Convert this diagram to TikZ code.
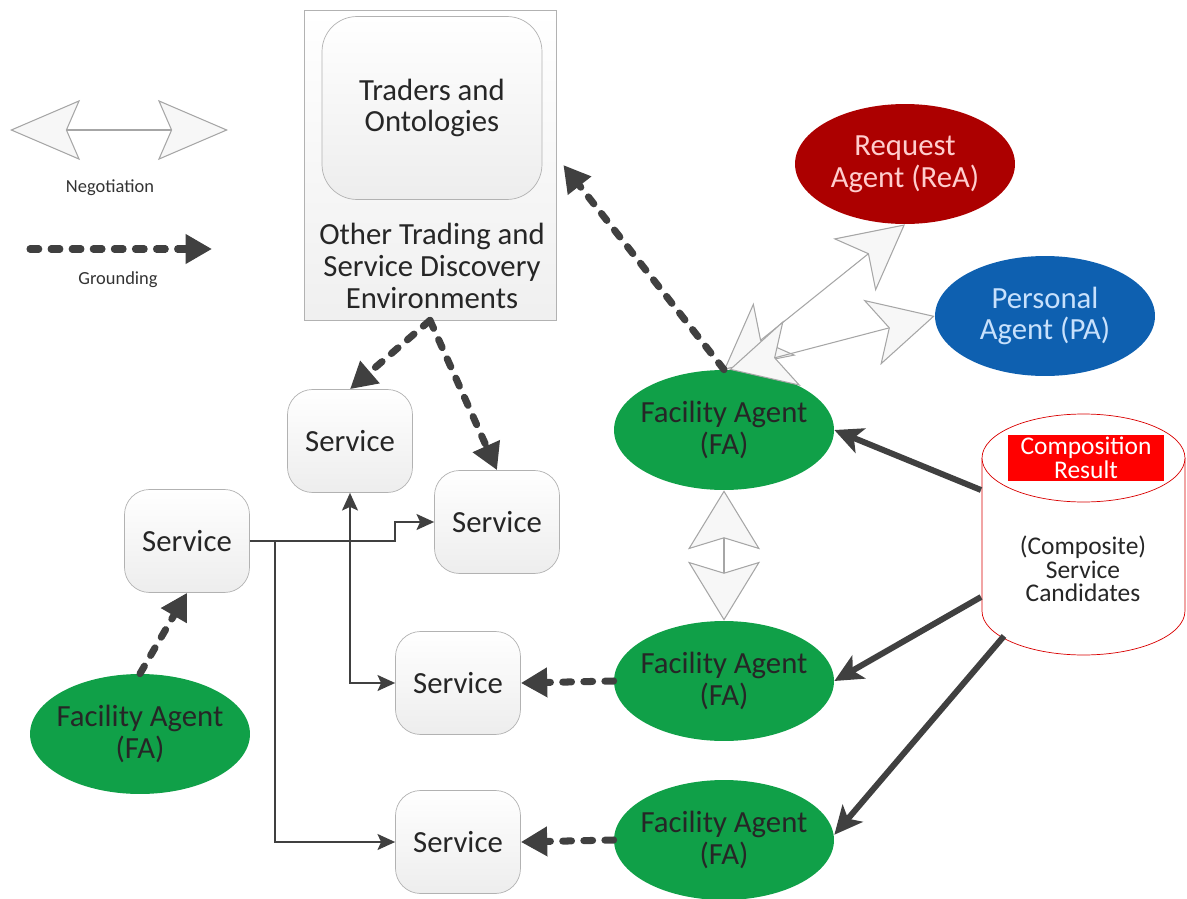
\documentclass[tikz,border=0pt]{standalone}
\usepackage{fontspec}
\setmainfont{Carlito}
\usetikzlibrary{arrows.meta,shapes.geometric}

\definecolor{fagreen}{RGB}{16,160,72}
\definecolor{reared}{RGB}{172,0,0}
\definecolor{reatext}{RGB}{255,205,205}
\definecolor{pablue}{RGB}{14,96,176}
\definecolor{patext}{RGB}{200,225,252}
\definecolor{linegray}{RGB}{64,64,64}

\tikzset{
  bigfont/.style={font=\fontsize{17.5}{18}\selectfont},
  smallfont/.style={font=\fontsize{10.5}{12}\selectfont, text=black!80},
  service/.style={draw=gray!60, rounded corners=0.5cm, top color=white, bottom color=gray!14,
    minimum width=2.5cm, minimum height=2.06cm, text=black!85, bigfont},
  agent/.style={ellipse, minimum width=4.4cm, minimum height=2.4cm, inner xsep=-12pt, inner ysep=0pt,
    align=center, bigfont},
  fa/.style={agent, fill=fagreen, text=black!85},
  ground/.style={draw=linegray, line width=4pt, dash pattern=on 5pt off 7pt, line cap=round,
    -{Triangle[length=15pt,width=16pt]}},
  feed/.style={draw=linegray, line width=3.4pt, -{Stealth[length=16pt,width=15pt,inset=4pt]}},
  link/.style={draw=linegray, line width=1.5pt, -{Stealth[length=10pt,width=9pt,inset=2pt]}},
  linkboth/.style={link, {Stealth[length=10pt,width=9pt,inset=2pt]}-{Stealth[length=10pt,width=9pt,inset=2pt]}},
  nego/.style n args={3}{draw=gray!70, line width=0.6pt,
    arrows={Stealth[fill=gray!6,length=#1,width=#2,inset=#3]-Stealth[fill=gray!6,length=#1,width=#2,inset=#3]}},
}

\begin{document}
\begin{tikzpicture}[x=0.02cm, y=-0.02cm]
\useasboundingbox (0,0) rectangle (1187,899);

% legend
\coordinate (negl) at (10,130);
\coordinate (negr) at (228,130);
\draw[nego={1.4cm}{1.2cm}{0.26cm}] (negl) -- (negr);
\node[smallfont] (negtext) at (110,188) {Negotiation};
\coordinate (grl) at (30,249);
\coordinate (grr) at (212,249);
\draw[ground] (grl) -- (grr);
\node[smallfont] (grtext) at (118,280) {Grounding};

% trading environments
\node[draw=gray!60, top color=white, bottom color=gray!12, minimum width=5.04cm, minimum height=6.2cm] (env) at (430,165) {};
\node[service, rounded corners=0.7cm, minimum width=4.4cm, minimum height=3.66cm, align=center] (traders) at (432,108) {Traders and\\Ontologies};
\node[bigfont, align=center, text=black!85] (envtext) at (432,266) {Other Trading and\\Service Discovery\\Environments};

% agents
\node[agent, fill=reared, text=reatext] (rea) at (905,164) {Request\\Agent (ReA)};
\node[agent, fill=pablue, text=patext] (pa) at (1045,316) {Personal\\Agent (PA)};
\node[fa] (fa1) at (724,430) {Facility Agent\\(FA)};
\node[fa] (fa2) at (724,681) {Facility Agent\\(FA)};
\node[fa] (fa3) at (724,840) {Facility Agent\\(FA)};
\node[fa] (fa4) at (140,734) {Facility Agent\\(FA)};

% services
\node[service] (s1) at (350,441) {Service};
\node[service] (s2) at (497,522) {Service};
\node[service] (s3) at (187,541) {Service};
\node[service] (s4) at (458,683) {Service};
\node[service] (s5) at (458,842) {Service};

% candidates store
\draw[red!85!black, fill=white] (982,458) -- (982,611) arc[start angle=180, end angle=360, x radius=2.03cm, y radius=0.88cm] -- (1185,458);
\draw[red!85!black, fill=white] (1083.5,458) ellipse [x radius=2.03cm, y radius=0.88cm];
\node[fill=red, text=white, minimum width=3.14cm, minimum height=0.84cm, inner sep=1pt, align=center,
  font=\fontsize{14.5}{13.5}\selectfont] (result) at (1086,458) {Composition\\Result};
\node[align=center, text=black!85, font=\fontsize{14.5}{13.5}\selectfont] (cand) at (1083,569) {(Composite)\\Service\\Candidates};
\coordinate (c1) at (981,490);
\coordinate (c2) at (981,597);
\coordinate (c3) at (1004,636);

% negotiation
\draw[nego={1.3cm}{1.35cm}{0.35cm}] (fa1.north) -- (rea.south);
\draw[nego={1.3cm}{1.35cm}{0.35cm}] ([xshift=3pt]fa1.north) -- (pa.west);
\draw[nego={1.18cm}{1.44cm}{0.22cm}] (fa1.south) -- (fa2.north);

% grounding
\draw[ground] (fa1.north) -- ([xshift=4pt]env.east);
\draw[ground] (env.south) -- (s1.north);
\draw[ground] (env.south) -- (s2.north);
\draw[ground] (fa4.north) -- (s3.south);
\draw[ground] (fa2.west) -- (s4.east);
\draw[ground] (fa3.west) -- (s5.east);

% results to agents
\draw[feed] (c1) -- (fa1.east);
\draw[feed] (c2) -- (fa2.east);
\draw[feed] (c3) -- ([yshift=3pt]fa3.east);

% service links
\draw[link] (s3.east) -| (395,522) -- (s2.west);
\draw[link] (275,541) |- (s5.west);
\draw[linkboth] (s1.south) |- (s4.west);
\end{tikzpicture}
\end{document}
